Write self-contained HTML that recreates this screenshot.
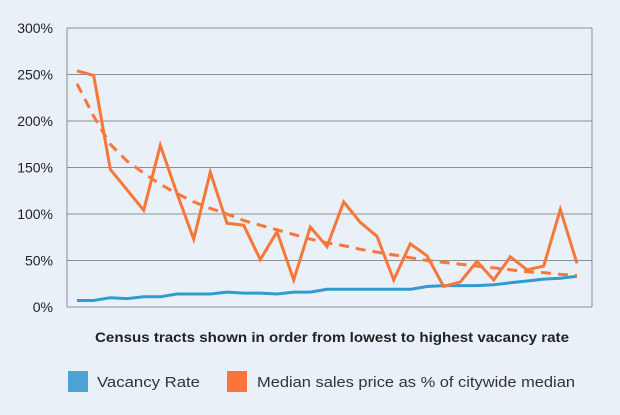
<!DOCTYPE html>
<html><head><meta charset="utf-8"><style>
html,body{margin:0;padding:0;background:#e9f0f7;}
svg{display:block;font-family:"Liberation Sans",sans-serif;}
</style></head><body>
<svg id="chart" width="620" height="415" viewBox="0 0 620 415">
<rect x="0" y="0" width="620" height="415" fill="#e9f0f7"/>
<g id="grid"></g>
<g id="series"></g>
<text x="332" y="342" text-anchor="middle" font-size="14" font-weight="bold" fill="#222" textLength="474" lengthAdjust="spacingAndGlyphs">Census tracts shown in order from lowest to highest vacancy rate</text>
<g>
<rect x="68" y="371" width="20" height="21" fill="#4aa3d4"/>
<text x="97" y="387" font-size="15" fill="#333" textLength="103" lengthAdjust="spacingAndGlyphs">Vacancy Rate</text>
<rect x="227" y="371" width="20" height="21" fill="#f7773a"/>
<text x="257" y="387" font-size="15" fill="#333" textLength="318" lengthAdjust="spacingAndGlyphs">Median sales price as % of citywide median</text>
</g>
</svg>
<script>
const yTicks=[0,50,100,150,200,250,300];
const yTickLabels=["0%","50%","100%","150%","200%","250%","300%"];
const priceValues=[254,249,148,126,104,174,122,73,145,90,88,51,81,29,86,65,113,91,76,29,68,55,22,27,49,29,54,40,44,105,47];
const trendValues=[240,205,175,157,144,132,122,113,106,100,93,88,83,78,73,69,66,62,59,56,53,50,48,46,44,42,40,38,37,35,34];
const vacancyValues=[7,7,10,9,11,11,14,14,14,16,15,15,14,16,16,19,19,19,19,19,19,22,23,23,23,24,26,28,30,31,33];

const NS="http://www.w3.org/2000/svg";
const L=67,R=592,T=28,B=307;
function y(v){return B-(v/300)*(B-T);}
function x(i){return 77+i*(577-77)/(priceValues.length-1);}
const grid=document.getElementById('grid');
yTicks.forEach((t,i)=>{
  const ln=document.createElementNS(NS,'line');
  ln.setAttribute('x1',L);ln.setAttribute('x2',R);
  ln.setAttribute('y1',y(t));ln.setAttribute('y2',y(t));
  ln.setAttribute('stroke','#8a8f94');ln.setAttribute('stroke-width','1');
  
  
  grid.appendChild(ln);
  const tx=document.createElementNS(NS,'text');
  tx.setAttribute('x',53);tx.setAttribute('y',y(t)+5);
  tx.setAttribute('text-anchor','end');tx.setAttribute('font-size','14');tx.setAttribute('fill','#222');
  tx.textContent=yTickLabels[i];
  
  
  grid.appendChild(tx);
});
['L','R'].forEach(s=>{
  const ln=document.createElementNS(NS,'line');
  const xx=s==='L'?L:R;
  ln.setAttribute('x1',xx);ln.setAttribute('x2',xx);ln.setAttribute('y1',T);ln.setAttribute('y2',B);
  ln.setAttribute('stroke','#8a8f94');ln.setAttribute('stroke-width','1');
  
  
  grid.appendChild(ln);
});
const ser=document.getElementById('series');
function line(vals,color,w,dash,name){
  const p=document.createElementNS(NS,'polyline');
  p.setAttribute('points',vals.map((v,i)=>x(i).toFixed(1)+','+y(v).toFixed(1)).join(' '));
  p.setAttribute('fill','none');p.setAttribute('stroke',color);p.setAttribute('stroke-width',w);
  p.setAttribute('stroke-linejoin','miter');
  if(dash)p.setAttribute('stroke-dasharray',dash);
  
  
  ser.appendChild(p);
}
line(vacancyValues,'#2f9bd1',3,null,'vacancy-rate-line');
line(trendValues,'#f7773a',3,'10,7','price-trend-line');
line(priceValues,'#f7773a',3,null,'median-price-line');
</script>
</body></html>
